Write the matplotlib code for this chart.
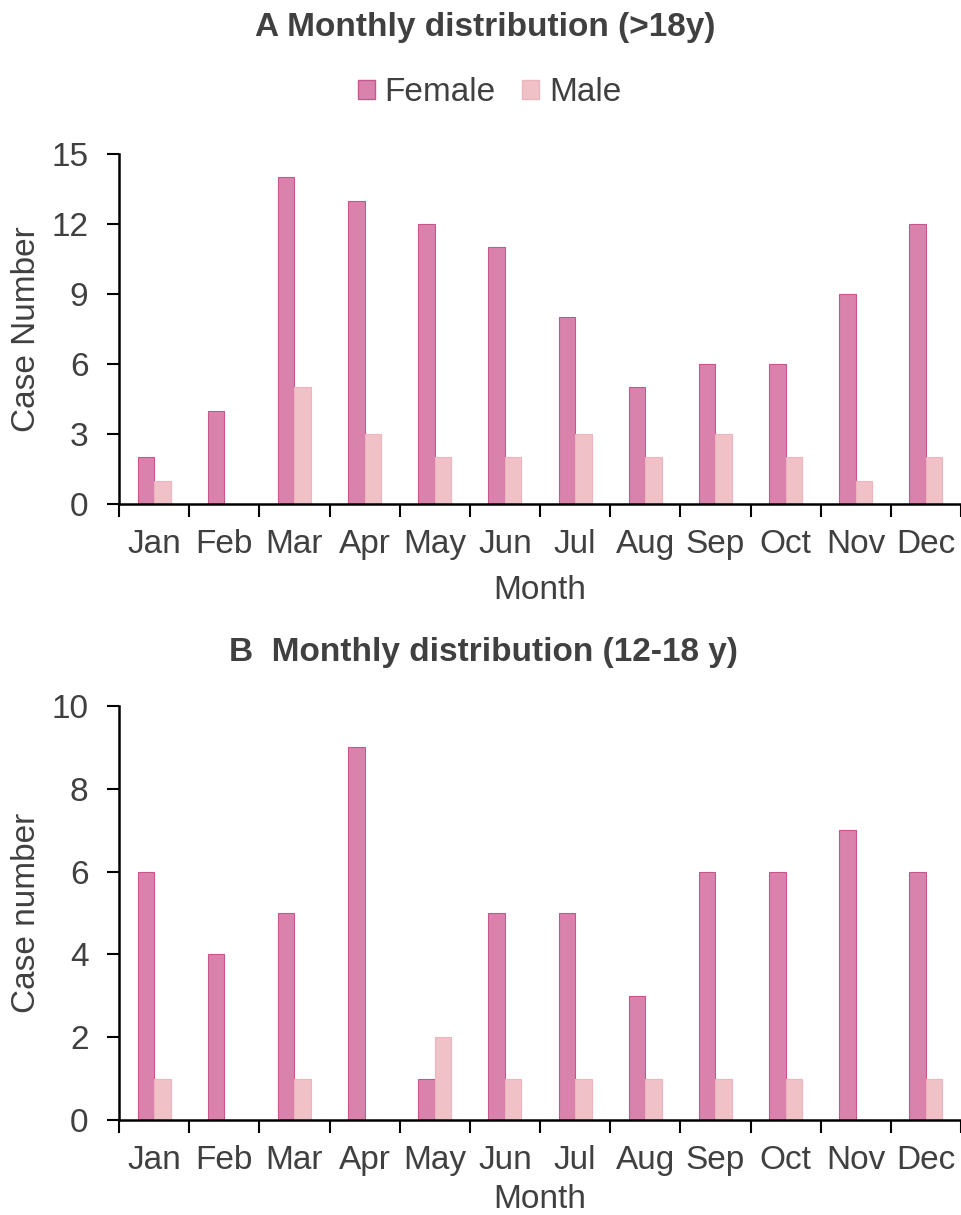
import numpy as np
import matplotlib
matplotlib.use('Agg')
import matplotlib.pyplot as plt
from matplotlib.patches import Patch

plt.rcParams['font.family'] = ['Liberation Sans', 'DejaVu Sans']

months = ['Jan', 'Feb', 'Mar', 'Apr', 'May', 'Jun', 'Jul', 'Aug', 'Sep', 'Oct', 'Nov', 'Dec']

# panel A (>18y)
female_adult = [2, 4, 14, 13, 12, 11, 8, 5, 6, 6, 9, 12]
male_adult = [1, 0, 5, 3, 2, 2, 3, 2, 3, 2, 1, 2]

# panel B (12-18 y)
female_teen = [6, 4, 5, 9, 1, 5, 5, 3, 6, 6, 7, 6]
male_teen = [1, 0, 1, 0, 2, 1, 1, 1, 1, 1, 0, 1]

female_color = '#D982AC'
female_edge = '#C9558F'
male_color = '#F0C2C8'
male_edge = '#EDB3BE'
text_color = '#404040'
fs = 24


def draw_panel(ax, female, male, ymax, ystep, ylabel, xlabel_y):
    x = np.arange(len(months))
    w = 0.235
    ax.bar(x - w / 2, female, width=w, color=female_color, edgecolor=female_edge, linewidth=0.8)
    ax.bar(x + w / 2, male, width=w, color=male_color, edgecolor=male_edge, linewidth=0.8)
    ax.set_xlim(-0.5, len(months) - 0.5)
    ax.set_ylim(0, ymax)
    ax.set_yticks(np.arange(0, ymax + 0.1, ystep))
    # major ticks between months, labels on minor ticks at month centres
    ax.set_xticks(np.arange(-0.5, len(months), 1.0))
    ax.set_xticklabels([])
    ax.set_xticks(x, minor=True)
    ax.set_xticklabels(months, minor=True)
    ax.tick_params(axis='x', which='major', length=9, width=1.5, direction='out')
    ax.tick_params(axis='x', which='minor', length=0, pad=18, labelsize=fs, labelcolor=text_color)
    ax.tick_params(axis='y', length=9, width=1.5, direction='out', labelsize=fs, labelcolor=text_color, pad=13)
    for s in ['top', 'right']:
        ax.spines[s].set_visible(False)
    for s in ['left', 'bottom']:
        ax.spines[s].set_linewidth(1.8)
    ax.set_ylabel(ylabel, fontsize=fs, color=text_color)
    ax.yaxis.set_label_coords(-0.0915, 0.5)
    ax.set_xlabel('Month', fontsize=fs, color=text_color)
    ax.xaxis.set_label_coords(0.5, xlabel_y)


fig = plt.figure(figsize=(9.62, 12.15), dpi=100)

ax1 = fig.add_axes([0.1237, 0.5852, 0.8753, 0.2881])
draw_panel(ax1, female_adult, male_adult, 15, 3, 'Case Number', -0.203)

ax2 = fig.add_axes([0.1237, 0.0782, 0.8753, 0.3407])
draw_panel(ax2, female_teen, male_teen, 10, 2, 'Case number', -0.155)

fig.text(0.504, 0.977, 'A Monthly distribution (>18y)', ha='center', va='center',
         fontsize=fs, fontweight='bold', color=text_color)
fig.text(0.503, 0.463, 'B  Monthly distribution (12-18 y)', ha='center', va='center',
         fontsize=fs, fontweight='bold', color=text_color)

handles = [Patch(facecolor=female_color, edgecolor=female_edge, label='Female'),
           Patch(facecolor=male_color, edgecolor=male_edge, label='Male')]
fig.legend(handles=handles, loc='center', bbox_to_anchor=(0.509, 0.924), ncol=2, frameon=False,
           fontsize=fs, labelcolor=text_color, handlelength=0.5, handleheight=0.5,
           handletextpad=0.3, columnspacing=0.8, borderpad=0)

fig.savefig('out.png', dpi=100)
